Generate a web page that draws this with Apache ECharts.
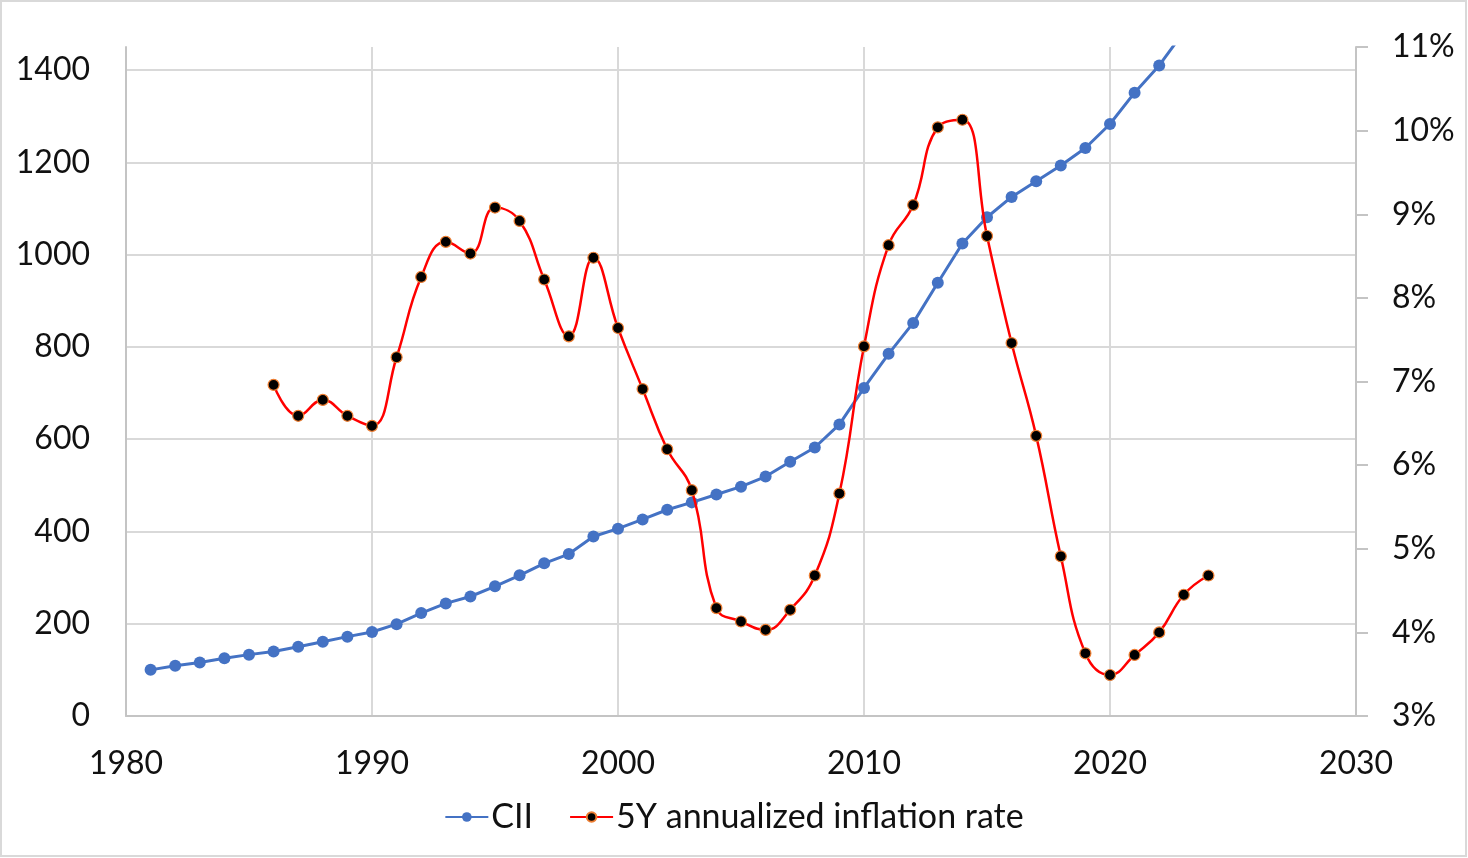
<!DOCTYPE html>
<html>
<head>
<meta charset="utf-8">
<title>CII and 5Y annualized inflation rate</title>
<script src="https://cdn.jsdelivr.net/npm/echarts@6/dist/echarts.min.js"></script>
<style>
  html, body { margin: 0; padding: 0; background: #fff; }
  #main { width: 1468px; height: 858px; }
</style>
</head>
<body>
<div id="main"></div>
<script>
// CII, base 1981 = 100
var ciiYears = [1981, 1982, 1983, 1984, 1985, 1986, 1987, 1988, 1989, 1990,
  1991, 1992, 1993, 1994, 1995, 1996, 1997, 1998, 1999, 2000,
  2001, 2002, 2003, 2004, 2005, 2006, 2007, 2008, 2009, 2010,
  2011, 2012, 2013, 2014, 2015, 2016, 2017, 2018, 2019, 2020,
  2021, 2022, 2023, 2024];
var ciiValues = [100, 109, 116, 125, 133, 140, 150, 161, 172, 182,
  199, 223, 244, 259, 281, 305, 331, 351, 389, 406,
  426, 447, 463, 480, 497, 519, 551, 582, 632, 711,
  785, 852, 939, 1024, 1081, 1125, 1159, 1193, 1231, 1283,
  1351, 1410, 1483, 1547];

// 5 year annualized inflation, in %
var rateYears = [1986, 1987, 1988, 1989, 1990, 1991, 1992, 1993, 1994, 1995,
  1996, 1997, 1998, 1999, 2000, 2001, 2002, 2003, 2004, 2005,
  2006, 2007, 2008, 2009, 2010, 2011, 2012, 2013, 2014, 2015,
  2016, 2017, 2018, 2019, 2020, 2021, 2022, 2023, 2024];
var rateValues = [6.96, 6.59, 6.78, 6.59, 6.47, 7.29, 8.25, 8.67, 8.53, 9.08,
  8.92, 8.22, 7.54, 8.48, 7.64, 6.91, 6.19, 5.70, 4.29, 4.13,
  4.03, 4.27, 4.68, 5.66, 7.42, 8.63, 9.11, 10.04, 10.13, 8.74,
  7.46, 6.35, 4.91, 3.75, 3.49, 3.73, 4.00, 4.45, 4.68];

function pairs(xs, ys) {
  return xs.map(function (x, i) { return [x, ys[i]]; });
}

var font = 'Lato, "Open Sans", "Liberation Sans", sans-serif';
var textColor = '#111';
var gridColor = '#d9d9d9';
var axisColor = '#c4c4c4';

var chart = echarts.init(document.getElementById('main'));
chart.setOption({
  animation: false,
  backgroundColor: '#fff',
  textStyle: { fontFamily: font },
  graphic: [{
    type: 'rect',
    shape: { x: 1, y: 1, width: 1465, height: 855 },
    style: { fill: 'none', stroke: '#d9d9d9', lineWidth: 2 },
    silent: true
  }],
  grid: { left: 126, right: 112, top: 47, bottom: 142 },
  legend: {
    top: 795,
    left: 'center',
    itemWidth: 43,
    itemHeight: 12,
    itemGap: 36,
    textStyle: { fontFamily: font, fontSize: 34, color: textColor, padding: [0, 0, 0, -2] },
    data: ['CII', '5Y annualized inflation rate']
  },
  xAxis: {
    type: 'value',
    min: 1980,
    max: 2030,
    interval: 10,
    axisLine: { show: true, lineStyle: { color: axisColor, width: 2 } },
    axisTick: { show: false },
    splitLine: { show: true, lineStyle: { color: gridColor, width: 2 } },
    axisLabel: { fontFamily: font, fontSize: 32, color: textColor, margin: 32,
      formatter: function (v) { return String(v); } }
  },
  yAxis: [{
    type: 'value',
    min: 0,
    max: 1450,
    interval: 200,
    axisLine: { show: true, lineStyle: { color: axisColor, width: 2 } },
    axisTick: { show: false },
    splitLine: { show: true, showMaxLine: false, lineStyle: { color: gridColor, width: 2 } },
    axisLabel: { fontFamily: font, fontSize: 32, color: textColor, margin: 36, showMaxLabel: false,
      formatter: function (v) { return String(v); } }
  }, {
    type: 'value',
    position: 'right',
    min: 3,
    max: 11,
    interval: 1,
    axisLine: { show: true, lineStyle: { color: axisColor, width: 2 } },
    axisTick: { show: true, length: 12, lineStyle: { color: axisColor, width: 2 } },
    splitLine: { show: false },
    axisLabel: { fontFamily: font, fontSize: 32, color: textColor, margin: 36, formatter: '{value}%' }
  }],
  series: [{
    name: 'CII',
    type: 'line',
    yAxisIndex: 0,
    data: pairs(ciiYears, ciiValues),
    symbol: 'circle',
    symbolSize: 12,
    clip: true,
    lineStyle: { color: '#4472c4', width: 3 },
    itemStyle: { color: '#4472c4' },
    z: 3
  }, {
    name: '5Y annualized inflation rate',
    type: 'line',
    yAxisIndex: 1,
    data: pairs(rateYears, rateValues),
    smooth: 0.45,
    symbol: 'circle',
    symbolSize: 11,
    lineStyle: { color: '#ff0000', width: 2.5 },
    itemStyle: { color: '#000', borderColor: '#ed7d31', borderWidth: 1.2 },
    z: 4
  }]
});
</script>
</body>
</html>
